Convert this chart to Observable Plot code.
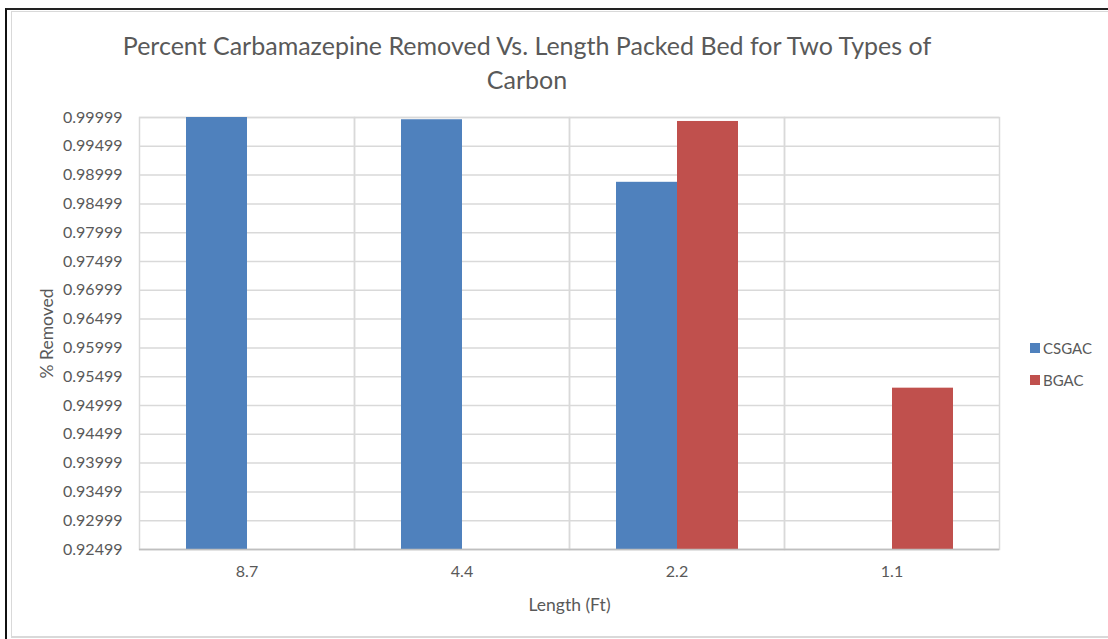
<!DOCTYPE html>
<html>
<head>
<meta charset="utf-8">
<script src="https://cdn.jsdelivr.net/npm/d3@7"></script>
<script src="https://cdn.jsdelivr.net/npm/@observablehq/plot@0.6"></script>
<style>
  html, body { margin: 0; padding: 0; background: #fff; }
  body { width: 1108px; height: 639px; overflow: hidden; position: relative; font-family: Lato, "Open Sans", sans-serif; color: #595959; }
  #outer { position: absolute; left: 5px; top: 8px; width: 1110px; height: 640px; border-left: 2px solid #111; border-top: 2px solid #222; box-sizing: border-box; }
  #inner { position: absolute; left: 11px; top: 11px; width: 1110px; height: 627px; border-left: 1px solid #d9d9d9; border-top: 1px solid #d9d9d9; border-bottom: 2px solid #d9d9d9; box-sizing: border-box; }
  #title { position: absolute; left: 0; width: 1054px; top: 28px; text-align: center; font-size: 25px; line-height: 34px; color: #595959; }
  #chart { position: absolute; left: 0; top: 0; }
  #chart g[aria-label="y-axis label"] text, #chart g[aria-label="fx-axis label"] text { font-size: 17.5px; }
  #legend { position: absolute; left: 1030px; top: 338px; font-size: 15px; color: #595959; }
  .item { display: flex; align-items: center; height: 20px; margin-bottom: 12px; }
  .sw { width: 10px; height: 10px; margin-right: 3px; }
</style>
</head>
<body>
<div id="outer"></div>
<div id="inner"></div>
<div id="chart"></div>
<div id="title">Percent Carbamazepine Removed Vs. Length Packed Bed for Two Types of<br>Carbon</div>
<div id="legend"></div>
<script>
const lengths = ["8.7", "4.4", "2.2", "1.1"];
const series = ["CSGAC", "BGAC"];
const colors = ["#4F81BD", "#C0504D"];
const csgac = [0.99999, 0.99960, 0.98874, null];
const bgac = [null, null, 0.99930, 0.95300];
const yTicks = [0.92499, 0.92999, 0.93499, 0.93999, 0.94499, 0.94999, 0.95499, 0.95999,
                0.96499, 0.96999, 0.97499, 0.97999, 0.98499, 0.98999, 0.99499, 0.99999];
const yMin = 0.92499, yMax = 0.99999;

const table = [];
lengths.forEach((l, i) => {
  if (csgac[i] != null) table.push({length: l, series: "CSGAC", value: csgac[i]});
  if (bgac[i] != null) table.push({length: l, series: "BGAC", value: bgac[i]});
});

const chart = Plot.plot({
  width: 1108,
  height: 639,
  marginLeft: 137,
  marginRight: 108,
  marginTop: 117,
  marginBottom: 90,
  style: {fontFamily: "Lato, 'Open Sans', sans-serif", fontSize: "16px", color: "#595959", background: "transparent"},
  fx: {domain: lengths, padding: 0, label: "Length (Ft)", labelAnchor: "center", labelOffset: 61, tickSize: 0, tickPadding: 16},
  x: {domain: series, paddingInner: 0, paddingOuter: 0.74, axis: null},
  y: {domain: [yMin, yMax], ticks: yTicks, tickFormat: d => d.toFixed(5), tickSize: 0, tickPadding: 17,
      label: "% Removed", labelAnchor: "center", labelOffset: 99, labelArrow: "none"},
  color: {domain: series, range: colors},
  marks: [
    Plot.gridY(yTicks, {stroke: "#d9d9d9", strokeOpacity: 1, strokeWidth: 1.5}),
    Plot.frame({stroke: "#d9d9d9", strokeWidth: 1.5}),
    Plot.barY(table, {fx: "length", x: "series", y1: yMin, y2: "value", fill: "series", inset: 0}),
    Plot.ruleY([yMin], {stroke: "#bfbfbf", strokeWidth: 1.5})
  ]
});
document.getElementById("chart").appendChild(chart);

const legend = document.getElementById("legend");
series.forEach((s, i) => {
  const it = document.createElement("div");
  it.className = "item";
  const sw = document.createElement("span");
  sw.className = "sw";
  sw.style.background = colors[i];
  const t = document.createElement("span");
  t.textContent = s;
  it.appendChild(sw); it.appendChild(t);
  legend.appendChild(it);
});
</script>
</body>
</html>
